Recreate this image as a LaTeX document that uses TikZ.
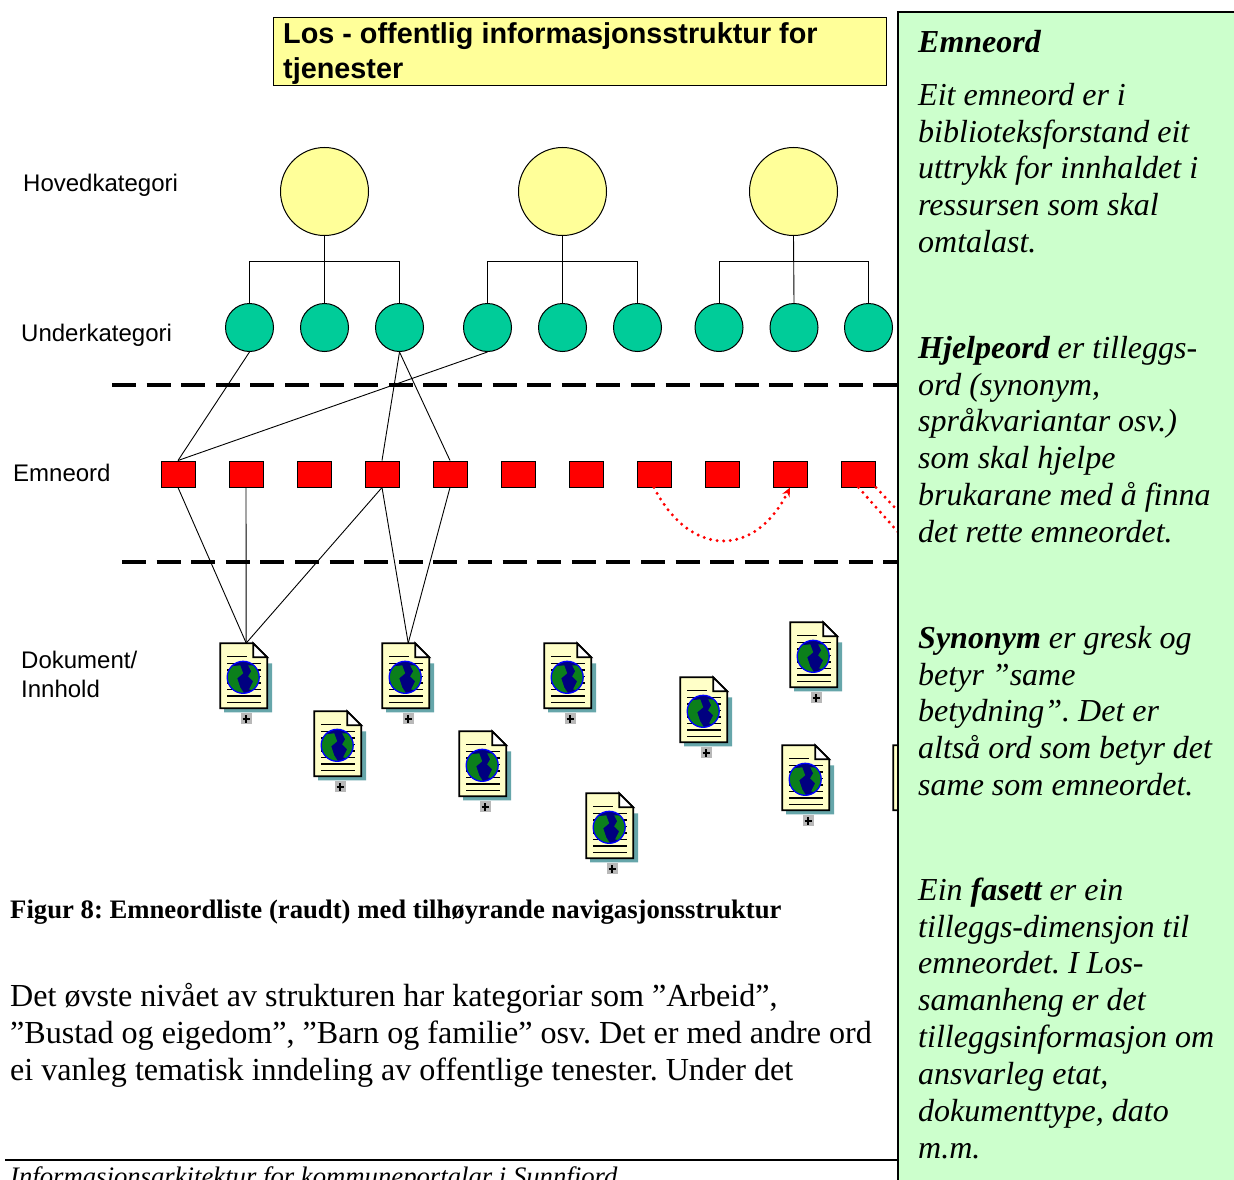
\documentclass[tikz,border=0pt]{standalone}
\usepackage{fontspec}
\setmainfont{Liberation Serif}
\newfontfamily\lsans{Liberation Sans}
\usetikzlibrary{arrows.meta}
\frenchspacing
\definecolor{titleyellow}{HTML}{FFFF99}
\definecolor{catgreen}{HTML}{00CC99}
\definecolor{panelgreen}{HTML}{CCFFCC}
\definecolor{docyellow}{HTML}{FFFFC8}
\definecolor{docshadow}{HTML}{66A6AA}
\definecolor{navyglobe}{HTML}{000080}
\definecolor{landgreen}{HTML}{0B7F1B}
\definecolor{plusgrey}{HTML}{B8B8B8}
\tikzset{
  x=1pt,y=-1pt,
  topcircle/.style={circle,draw=black,line width=1pt,fill=titleyellow,minimum size=88pt,inner sep=0pt},
  subcircle/.style={circle,draw=black,line width=1pt,fill=catgreen,minimum size=48pt,inner sep=0pt},
  termbox/.style={rectangle,draw=black,line width=1pt,fill=red,minimum width=34pt,minimum height=26pt,inner sep=0pt},
  link/.style={draw=black,line width=0.9pt},
  divider/.style={draw=black,line width=3.6pt,dash pattern=on 24pt off 10.6pt},
  redots/.style={draw=red,line width=3.3pt,line cap=round,dash pattern=on 0pt off 6.6pt},
  label/.style={anchor=base west,inner sep=0pt,font=\lsans\fontsize{24}{28}\selectfont},
  panelhead/.style={anchor=north west,inner sep=0pt,align=left,font=\fontsize{32}{36.85}\selectfont\itshape},
  bodytext/.style={anchor=north west,inner sep=0pt,align=left,font=\fontsize{32.1}{36.9}\selectfont},
}
\newcommand{\fl}{\rule{0pt}{30pt}}
\newcommand{\docicon}[3]{%
  \begin{scope}[shift={(#2+0.2,#3+0.3)}]
    \fill[docshadow] (47,20) -- (52,20) -- (52,69) -- (4,69) -- (4,65) -- (47,65) -- cycle;
    \draw[black,line width=1.7pt,fill=docyellow,line join=miter] (0,0) -- (33,0) -- (47,14) -- (47,65) -- (0,65) -- cycle;
    \draw[black,line width=1.7pt,fill=white] (33,0) -- (47,14) -- (33,14) -- cycle;
    \node[minimum width=0pt,minimum height=0pt,inner sep=0pt] (#1) at (26,0) {};
    \draw[black,line width=1.4pt] (7,13) -- (27,13) (7,20) -- (41,20) (7,26.5) -- (41,26.5) (7,33) -- (41,33) (7,39.5) -- (41,39.5) (7,46) -- (41,46) (7,52.5) -- (41,52.5);
    \draw[black,line width=1.4pt] (7,59) -- (41,59);
    \begin{scope}
      \clip (23,34) circle (16);
      \fill[navyglobe] (23,34) circle (16);
      \fill[landgreen] (6,28) -- (12,23) -- (20,22) -- (23,30) -- (17,35) -- (20,44) -- (25,52) -- (12,50) -- (6,40) -- cycle;
      \fill[landgreen] (28,22) -- (35,22) -- (41,30) -- (41,40) -- (33,47) -- (29,46) -- (33,38) -- (28,33) -- (31,28) -- cycle;
    \end{scope}
    \draw[blue,line width=1.3pt] (23,34) circle (16);
    \fill[plusgrey] (20.5,69.5) rectangle (31.5,81);
    \draw[black,line width=1.9pt] (22.3,75.5) -- (29.7,75.5) (26,71.8) -- (26,79.2);
  \end{scope}}
\begin{document}
\begin{tikzpicture}
\useasboundingbox (0,0) rectangle (1234,1180);
\fill[white] (0,0) rectangle (1234,1180);

% title
\node[draw=black,line width=0.8pt,fill=titleyellow,anchor=north west,minimum width=612.5pt,minimum height=68.5pt,inner sep=0pt] (titlebox) at (273,17) {};
\node[anchor=north west,inner sep=0pt,align=left,font=\lsans\bfseries\fontsize{28.8}{35}\selectfont] (titletext) at (283,13) {\fl Los - offentlig informasjonsstruktur for\\tjenester};

% labels
\node[label] (lhoved) at (23,191) {Hovedkategori};
\node[label] (lunder) at (21,341) {Underkategori};
\node[label] (lemne) at (13,481) {Emneord};
\node[label] (ldok) at (21,668) {Dokument/};
\node[label] (linn) at (21,697) {Innhold};

% top circles
\node[topcircle] (c1) at (324.5,191.5) {};
\node[topcircle] (c2) at (562.5,191.5) {};
\node[topcircle] (c3) at (793.5,191.5) {};

% sub circles
\foreach \n/\x in {g1/249.5,g2/324.5,g3/399.5,g4/487.5,g5/562.5,g6/637.5,g7/719,g8/794,g9/868.5}
  \node[subcircle] (\n) at (\x,327.5) {};

% tree buses
\coordinate (b1) at (324,261);
\coordinate (b2) at (562,261);
\coordinate (b3) at (794,261);
\draw[link] (c1.south) -- (g2.north);
\draw[link] (c2.south) -- (g5.north);
\draw[link] (c3.south) -- (g8.north);
\draw[link] (g1.north) -- (g1.north |- b1) -- (g3.north |- b1) -- (g3.north);
\draw[link] (g4.north) -- (g4.north |- b2) -- (g6.north |- b2) -- (g6.north);
\draw[link] (g7.north) -- (g7.north |- b3) -- (g9.north |- b3) -- (g9.north);

% red terms
\foreach \n/\x in {r1/178,r2/246,r3/314,r4/382,r5/450,r6/518,r7/586,r8/654,r9/722,r10/790,r11/858.5}
  \node[termbox] (\n) at (\x,474) {};

% dividers
\coordinate (da) at (112,385);
\coordinate (db) at (898,385);
\coordinate (dc) at (122,562);
\coordinate (dd) at (898,562);
\draw[divider] (da) -- (db);
\draw[divider] (dc) -- (dd);

% documents
\docicon{d1}{220}{643}
\docicon{d2}{382}{643}
\docicon{d3}{544}{643}
\docicon{d4}{314}{711}
\docicon{d5}{459}{731}
\docicon{d6}{586}{793}
\docicon{d7}{680}{677}
\docicon{d8}{790}{622}
\docicon{d9}{782}{745}
\docicon{d10}{893}{745}

% links
\draw[link] (g1.south) -- (r1.north);
\draw[link] (g4.south) -- (r1.north);
\draw[link] (g3.south) -- (r4.north);
\draw[link] (g3.south) -- (r5.north);
\draw[link] (r1.south) -- (d1.north);
\draw[link] (r2.south) -- (d1.north);
\draw[link] (r4.south) -- (d1.north);
\draw[link] (r4.south) -- (d2.north);
\draw[link] (r5.south) -- (d2.north);

% dotted red
\draw[redots,-{Stealth[length=9pt,width=8pt,fill=red]}] (r8.south) .. controls (690,558) and (755,558) .. (r10.south);
\coordinate (e1) at (898,532);
\coordinate (e2) at (898,511);
\draw[redots] (r11.south) -- (e1);
\draw[redots] (r11.south east) -- (e2);

% caption and text
\node[anchor=base west,inner sep=0pt,font=\bfseries\fontsize{26.7}{31}\selectfont] (figcap) at (10,918) {Figur 8: Emneordliste (raudt) med tilhøyrande navigasjonsstruktur};
\node[bodytext] (body) at (10,976) {\fl Det øvste nivået av strukturen har kategoriar som ”Arbeid”,\\”Bustad og eigedom”, ”Barn og familie” osv. Det er med andre ord\\ei vanleg tematisk inndeling av offentlige tenester. Under det};

% footer
\coordinate (fa) at (5,1160);
\coordinate (fb) at (898,1160);
\draw[black,line width=2pt] (fa) -- (fb);
\node[anchor=base west,inner sep=0pt,font=\itshape\fontsize{26.7}{31}\selectfont] (footer) at (10,1185) {Informasjonsarkitektur for kommuneportalar i Sunnfjord};

% panel
\fill[panelgreen] (898,12) rectangle (1234,1180);
\draw[black,line width=2pt] (1234,12) -- (898,12) -- (898,1180);
\node[panelhead] (p0) at (918,22) {\fl\textbf{Emneord}};
\node[panelhead] (p1) at (918,75) {\fl Eit emneord er i\\biblioteksforstand eit\\uttrykk for innhaldet i\\ressursen som skal\\omtalast.};
\node[panelhead] (p2) at (918,328) {\fl\textbf{Hjelpeord} er tilleggs-\\ord (synonym,\\språkvariantar osv.)\\som skal hjelpe\\brukarane med å finna\\det rette emneordet.};
\node[panelhead] (p3) at (918,618) {\fl\textbf{Synonym} er gresk og\\betyr ”same\\betydning”. Det er\\altså ord som betyr det\\same som emneordet.};
\node[panelhead] (p4) at (918,870) {\fl Ein \textbf{fasett} er ein\\tilleggs-dimensjon til\\emneordet. I Los-\\samanheng er det\\tilleggsinformasjon om\\ansvarleg etat,\\dokumenttype, dato\\m.m.};
\end{tikzpicture}
\end{document}
